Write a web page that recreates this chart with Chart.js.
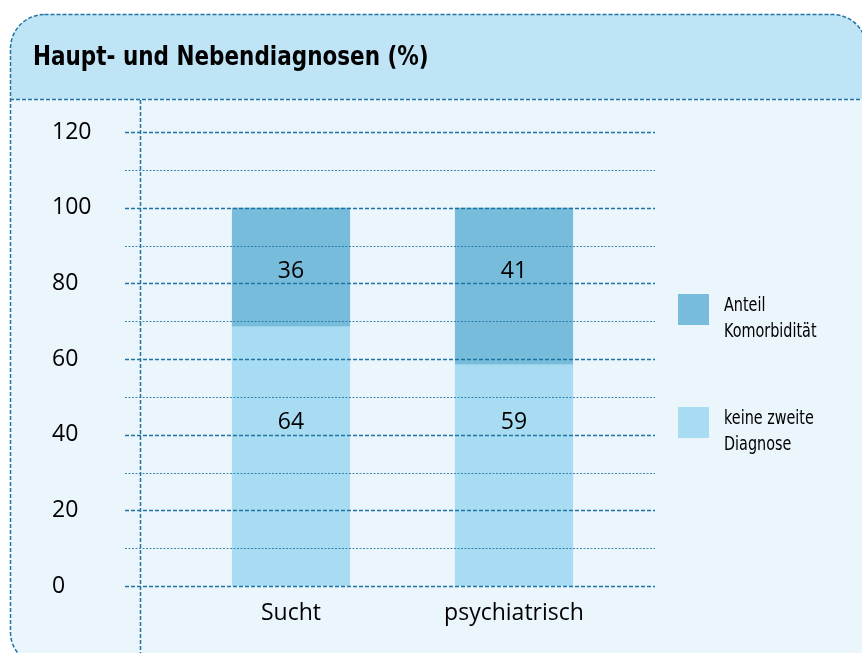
<!DOCTYPE html>
<html lang="de">
<head>
<meta charset="utf-8">
<title>Haupt- und Nebendiagnosen (%)</title>
<script src="https://cdn.jsdelivr.net/npm/chart.js@4/dist/chart.umd.min.js"></script>
<style>
	html, body { margin: 0; padding: 0; background: #ffffff; }
	#stage { position: relative; width: 862px; height: 653px; overflow: hidden; }
	#chart { position: absolute; left: 0; top: 0; }
	#title {
		position: absolute; left: 33px; top: 41px; white-space: nowrap;
		font: bold 26px "DejaVu Sans Condensed", sans-serif;
		line-height: 30px; color: #000;
		transform: scaleX(0.92); transform-origin: left center;
	}
	.legend-item { position: absolute; left: 678px; }
	.legend-box { position: absolute; left: 0; width: 31px; height: 31px; }
	.legend-text {
		position: absolute; left: 46px; white-space: nowrap;
		font: 20px "DejaVu Sans Condensed", sans-serif;
		line-height: 26px; color: #000;
		transform: scaleX(0.8); transform-origin: left center;
	}
</style>
</head>
<body>
<div id="stage">
	<canvas id="chart" width="862" height="653"></canvas>
	<div id="title">Haupt- und Nebendiagnosen (%)</div>
	<div id="legend"></div>
</div>
<script>
// chart data
const categories = ['Sucht', 'psychiatrisch'];
const keineZweiteDiagnose = [68.5, 58.5];   // bar heights as drawn
const anteilKomorbiditaet = [31.5, 41.5];
const keineZweiteLabels = ['64', '59'];     // numbers printed in the bars
const komorbiditaetLabels = ['36', '41'];
const yTicks = [0, 20, 40, 60, 80, 100, 120];

const colorKomorbiditaet = '#78bcdc';
const colorKeineZweite = '#a8dcf3';
const lineColor = '#1f74a4';

// legend (html, two lines each)
const legendEntries = [
	{ color: colorKomorbiditaet, lines: ['Anteil', 'Komorbidität'], top: 294 },
	{ color: colorKeineZweite, lines: ['keine zweite', 'Diagnose'], top: 407 }
];
const legendEl = document.getElementById('legend');
legendEntries.forEach(function (entry) {
	const item = document.createElement('div');
	item.className = 'legend-item';
	item.style.top = entry.top + 'px';
	const box = document.createElement('div');
	box.className = 'legend-box';
	box.style.background = entry.color;
	const text = document.createElement('div');
	text.className = 'legend-text';
	text.style.top = '-3px';
	text.innerHTML = entry.lines.join('<br>');
	item.appendChild(box);
	item.appendChild(text);
	legendEl.appendChild(item);
});

// rounded panel with header band, drawn behind everything
const panelPlugin = {
	id: 'panel',
	beforeDraw(chart) {
		const ctx = chart.ctx;
		ctx.save();
		ctx.beginPath();
		ctx.roundRect(10.5, 14.5, 856, 650, [34, 34, 0, 32]);
		ctx.fillStyle = '#eaf5fc';
		ctx.fill();
		ctx.save();
		ctx.clip();
		ctx.fillStyle = '#bee4f6';
		ctx.fillRect(0, 0, 862, 99);
		ctx.restore();

		ctx.strokeStyle = lineColor;
		ctx.lineWidth = 1.5;
		ctx.setLineDash([4, 2]);
		ctx.stroke();

		ctx.beginPath();
		ctx.moveTo(10, 99.5);
		ctx.lineTo(862, 99.5);
		ctx.moveTo(140.5, 100);
		ctx.lineTo(140.5, 653);
		ctx.stroke();
		ctx.restore();
	}
};

// dashed major / dotted minor grid, drawn over the bars and wider than the plot area
const gridPlugin = {
	id: 'dashedGrid',
	afterDatasetsDraw(chart) {
		const ctx = chart.ctx;
		const yScale = chart.scales.y;
		const area = chart.chartArea;
		const x0 = area.left - 54.5;
		const x1 = area.right + 29.5;
		ctx.save();
		ctx.strokeStyle = lineColor;
		for (let v = yScale.min; v <= yScale.max; v += 10) {
			const py = Math.round(yScale.getPixelForValue(v)) + 0.5;
			const major = v % 20 === 0;
			ctx.lineWidth = major ? 1.4 : 1;
			ctx.setLineDash(major ? [4, 2] : [2, 1.5]);
			ctx.globalAlpha = major ? 1 : 0.85;
			ctx.beginPath();
			ctx.moveTo(x0, py);
			ctx.lineTo(x1, py);
			ctx.stroke();
		}
		ctx.restore();
	}
};

// numbers inside the bars
const barTextPlugin = {
	id: 'barText',
	afterDatasetsDraw(chart) {
		const ctx = chart.ctx;
		const yScale = chart.scales.y;
		const levels = [43.5, 83.5];
		ctx.save();
		ctx.font = '23px "Open Sans", sans-serif';
		ctx.fillStyle = '#000';
		ctx.textAlign = 'center';
		ctx.textBaseline = 'middle';
		chart.data.datasets.forEach(function (ds, i) {
			chart.getDatasetMeta(i).data.forEach(function (bar, j) {
				ctx.fillText(ds.valueLabels[j], bar.x, yScale.getPixelForValue(levels[i]) + 1);
			});
		});
		ctx.restore();
	}
};

const ctx = document.getElementById('chart').getContext('2d');
const chart = new Chart(ctx, {
	type: 'bar',
	data: {
		labels: categories,
		datasets: [
			{
				label: 'keine zweite Diagnose',
				data: keineZweiteDiagnose,
				valueLabels: keineZweiteLabels,
				backgroundColor: colorKeineZweite
			},
			{
				label: 'Anteil Komorbidität',
				data: anteilKomorbiditaet,
				valueLabels: komorbiditaetLabels,
				backgroundColor: colorKomorbiditaet
			}
		]
	},
	options: {
		responsive: false,
		animation: false,
		categoryPercentage: 1,
		barPercentage: 0.53,
		layout: { padding: { left: 52, right: 236.5, top: 132, bottom: 23 } },
		plugins: {
			legend: { display: false },
			tooltip: { enabled: false }
		},
		scales: {
			x: {
				stacked: true,
				grid: { display: false },
				border: { display: false },
				ticks: { color: '#000', padding: 6, font: { family: 'Open Sans', size: 23 } },
				afterFit: function (scale) { scale.height = 44; }
			},
			y: {
				stacked: true,
				min: 0,
				max: 120,
				grid: { display: false },
				border: { display: false },
				afterBuildTicks: function (scale) {
					scale.ticks = yTicks.map(function (v) { return { value: v }; });
				},
				ticks: {
					color: '#000',
					crossAlign: 'far',
					font: { family: 'Open Sans', size: 23 }
				},
				afterFit: function (scale) { scale.width = 127.5; }
			}
		}
	},
	plugins: [panelPlugin, gridPlugin, barTextPlugin]
});
</script>
</body>
</html>
